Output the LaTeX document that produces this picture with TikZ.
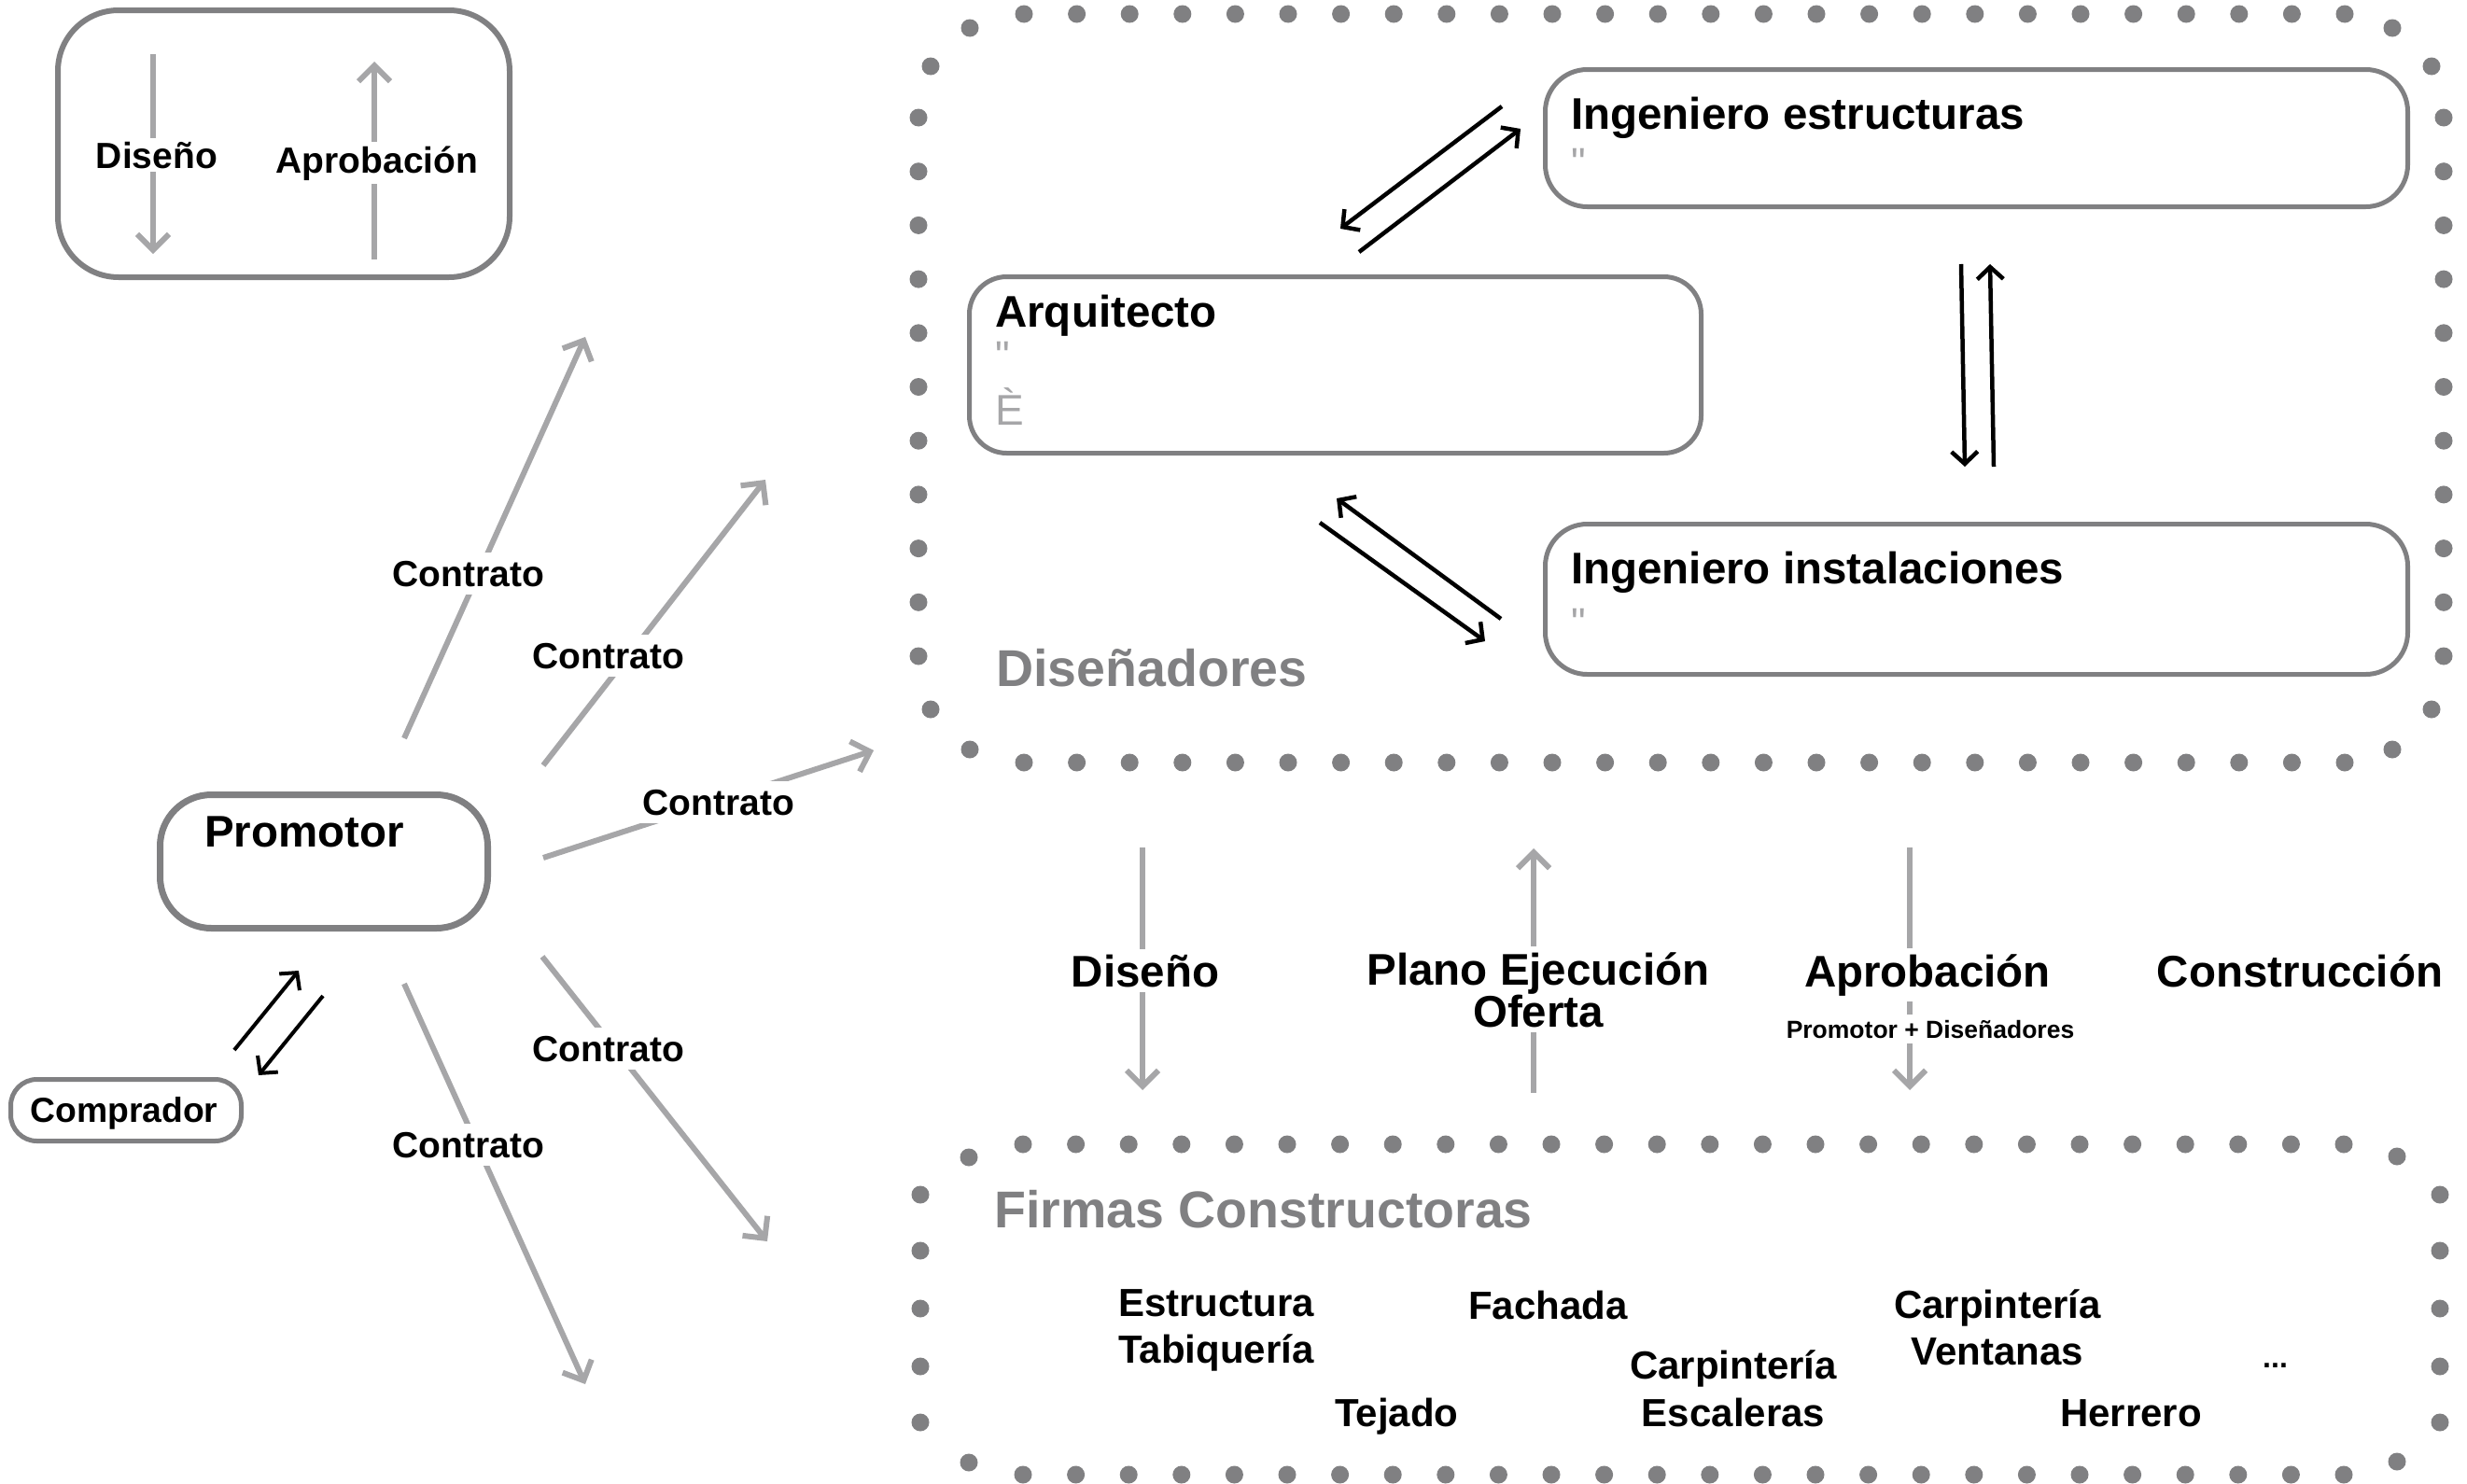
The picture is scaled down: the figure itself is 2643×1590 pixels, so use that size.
\documentclass[tikz,border=0pt]{standalone}
\usepackage{fontspec}
\setmainfont{Liberation Sans}
\newfontfamily\qfont[Ligatures=TeXOff]{Liberation Sans}
\usetikzlibrary{arrows.meta}
\definecolor{boxgray}{HTML}{808082}
\definecolor{arrowgray}{HTML}{A6A6A8}
\begin{document}
\begin{tikzpicture}[x=1pt,y=-1pt,
  rbox/.style={draw=boxgray, line width=5pt, inner sep=0pt, outer sep=0pt},
  garrow/.style={draw=arrowgray, line width=6pt, -{Straight Barb[length=17pt,width=34pt]}},
  barrow/.style={draw=black, line width=4.5pt, -{Straight Barb[length=13pt,width=28pt]}},
  dotmark/.style={fill=boxgray},
  lbl/.style={font=\bfseries\fontsize{#1}{#1}\selectfont, inner sep=0pt, text=black},
  glbl/.style={font=\qfont\fontsize{#1}{#1}\selectfont, inner sep=0pt, text=arrowgray},
  hide/.style={fill=white}
]
\fill[white] (0,0) rectangle (2643,1590);
\useasboundingbox (0,0) rectangle (2643,1590);

% dotted group box: Disenadores
\foreach \i in {0,...,25} {
  \fill[dotmark] ({1097+56.6*\i},15) circle (9.5pt);
  \fill[dotmark] ({1097+56.6*\i},817) circle (9.5pt);
}
\foreach \i in {0,...,10} {
  \fill[dotmark] (984,{126+57.7*\i}) circle (9.5pt);
  \fill[dotmark] (2618,{126+57.7*\i}) circle (9.5pt);
}
\foreach \p in {(1039,30),(997,71),(2563,30),(2605,71),(997,760),(1039,803),(2605,760),(2563,803)}
  \fill[dotmark] \p circle (9.5pt);

% dotted group box: Firmas Constructoras
\foreach \i in {0,...,25} {
  \fill[dotmark] ({1096+56.6*\i},1226) circle (9.5pt);
  \fill[dotmark] ({1096+56.6*\i},1580) circle (9.5pt);
}
\foreach \y in {1280,1340,1402,1464,1524} {
  \fill[dotmark] (986,\y) circle (9.5pt);
  \fill[dotmark] (2614,\y) circle (9.5pt);
}
\foreach \p in {(1038,1240),(1038,1567),(2568,1239),(2568,1566)}
  \fill[dotmark] \p circle (9.5pt);

% boxes
\node[rbox, line width=6pt, minimum width=484pt, minimum height=286pt, rounded corners=65pt] (legend) at (304,154) {};
\node[rbox, line width=7pt, minimum width=351pt, minimum height=143pt, rounded corners=55pt] (promotor) at (347,923) {};
\node[rbox, minimum width=247pt, minimum height=66pt, rounded corners=28pt] (comprador) at (135,1189.5) {};
\node[rbox, minimum width=784pt, minimum height=189pt, rounded corners=40pt] (arq) at (1430.5,391) {};
\node[rbox, minimum width=924pt, minimum height=147pt, rounded corners=45pt] (ingE) at (2117.5,148) {};
\node[rbox, minimum width=924pt, minimum height=161pt, rounded corners=45pt] (ingI) at (2117.5,642) {};

% coordinates for connector ends
\coordinate (lD1) at (164,58);   \coordinate (lD2) at (164,272);
\coordinate (lA1) at (401,278);  \coordinate (lA2) at (401,66);
\coordinate (k1a) at (433,791);  \coordinate (k1b) at (627,361);
\coordinate (k2a) at (582,820);  \coordinate (k2b) at (820,514);
\coordinate (k3a) at (582,919);  \coordinate (k3b) at (936,804);
\coordinate (k4a) at (581,1025); \coordinate (k4b) at (822,1330);
\coordinate (k5a) at (433,1054); \coordinate (k5b) at (627,1483);
\coordinate (pc1) at (251,1125); \coordinate (pc2) at (320,1040);
\coordinate (pc3) at (346,1067); \coordinate (pc4) at (277,1152);
\coordinate (a1) at (1609,114);  \coordinate (a2) at (1436,245);
\coordinate (b1) at (1456,270);  \coordinate (b2) at (1629,138);
\coordinate (c1) at (1608,663);  \coordinate (c2) at (1432,534);
\coordinate (d1) at (1414,560);  \coordinate (d2) at (1591,687);
\coordinate (e1) at (2101,283);  \coordinate (e2) at (2105,500);
\coordinate (f1) at (2136,500);  \coordinate (f2) at (2132,283);
\coordinate (m1a) at (1224,908); \coordinate (m1b) at (1224,1168);
\coordinate (m2a) at (1643,1171);\coordinate (m2b) at (1643,909);
\coordinate (m3a) at (2046,908); \coordinate (m3b) at (2046,1168);

% gray arrows
\draw[garrow] (lD1) -- (lD2);
\draw[garrow] (lA1) -- (lA2);
\draw[garrow] (k1a) -- (k1b);
\draw[garrow] (k2a) -- (k2b);
\draw[garrow] (k3a) -- (k3b);
\draw[garrow] (k4a) -- (k4b);
\draw[garrow] (k5a) -- (k5b);
\draw[garrow] (m1a) -- (m1b);
\draw[garrow] (m2a) -- (m2b);
\draw[garrow] (m3a) -- (m3b);

% black arrows
\draw[barrow, line width=4pt] (pc1) -- (pc2);
\draw[barrow, line width=4pt] (pc3) -- (pc4);
\draw[barrow] (a1) -- (a2);
\draw[barrow] (b1) -- (b2);
\draw[barrow] (c1) -- (c2);
\draw[barrow] (d1) -- (d2);
\draw[barrow] (e1) -- (e2);
\draw[barrow] (f1) -- (f2);

% legend labels
\node[lbl=39, hide, inner sep=4pt, anchor=base] (legD) at (168,180) {Diseño};
\node[lbl=39, hide, inner sep=4pt, anchor=base] (legA) at (404,185) {Aprobación};

% contract labels
\node[lbl=39, hide, inner sep=9pt, anchor=base] (ct1) at (502,628) {Contrato};
\node[lbl=39, hide, inner sep=9pt, anchor=base] (ct2) at (652,716) {Contrato};
\node[lbl=39, hide, inner sep=9pt, anchor=base] (ct3) at (770,873) {Contrato};
\node[lbl=39, hide, inner sep=9pt, anchor=base] (ct4) at (652,1137) {Contrato};
\node[lbl=39, hide, inner sep=9pt, anchor=base] (ct5) at (502,1240) {Contrato};

% box titles
\node[lbl=47.5, anchor=base west] (promT) at (219,907) {Promotor};
\node[lbl=37.3, anchor=base] (compT) at (133,1202) {Comprador};
\node[lbl=47.5, anchor=base west] (arqT) at (1066,350) {Arquitecto};
\node[glbl=44, anchor=base west] (arqQ) at (1066,396) {\symbol{34}};
\node[glbl=46, anchor=base west] (arqE) at (1066,455) {È};
\node[lbl=47.5, anchor=base west] (ingET) at (1683,138) {Ingeniero estructuras};
\node[glbl=44, anchor=base west] (ingEQ) at (1683,189) {\symbol{34}};
\node[lbl=47.5, anchor=base west] (ingIT) at (1683,625) {Ingeniero instalaciones};
\node[glbl=44, anchor=base west] (ingIQ) at (1683,682) {\symbol{34}};

% group titles
\node[lbl=55.5, text=boxgray, anchor=base west] (disT) at (1067,735) {Diseñadores};
\node[lbl=55.5, text=boxgray, anchor=base west] (firT) at (1065,1315) {Firmas Constructoras};

% phase labels
\node[lbl=47.5, hide, inner sep=6pt, anchor=base] (phD) at (1227,1057) {Diseño};
\node[lbl=47.5, hide, inner sep=6pt, anchor=base, align=center, font=\bfseries\fontsize{47.5}{45}\selectfont] (phP) at (1648,1100) {Plano Ejecución\\Oferta};
\node[lbl=47.5, hide, inner sep=6pt, anchor=base] (phA) at (2065,1057) {Aprobación};
\node[lbl=26.5, hide, inner sep=6pt, anchor=base] (phAs) at (2068,1112) {Promotor + Diseñadores};
\node[lbl=47.5, anchor=base] (phC) at (2464,1057) {Construcción};

% firms
\node[lbl=42, anchor=base west] (f1t) at (1198,1410) {Estructura};
\node[lbl=42, anchor=base west] (f2t) at (1198,1460) {Tabiquería};
\node[lbl=42, anchor=base west] (f3t) at (1573,1413) {Fachada};
\node[lbl=42, anchor=base] (f4t) at (1857,1477) {Carpintería};
\node[lbl=42, anchor=base] (f5t) at (1857,1528) {Escaleras};
\node[lbl=42, anchor=base west] (f6t) at (1430,1528) {Tejado};
\node[lbl=42, anchor=base] (f7t) at (2140,1412) {Carpintería};
\node[lbl=42, anchor=base] (f8t) at (2140,1462) {Ventanas};
\node[lbl=42, anchor=base] (f9t) at (2283,1528) {Herrero};
\node[lbl=32, anchor=base west] (f10t) at (2424,1465) {...};
\end{tikzpicture}
\end{document}
